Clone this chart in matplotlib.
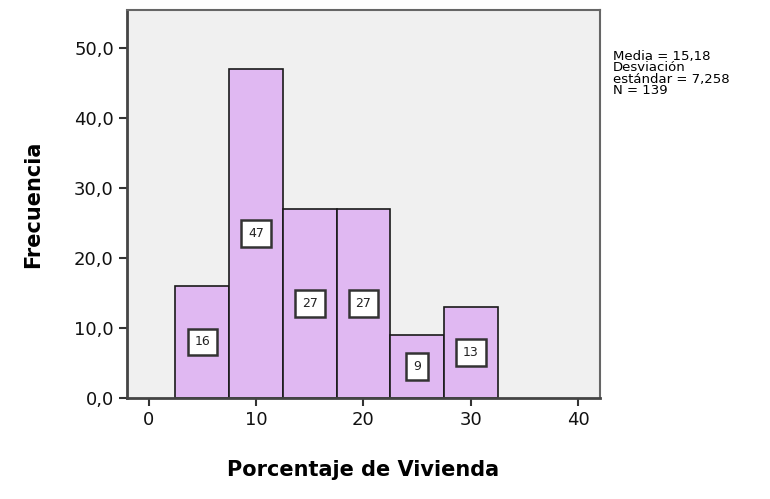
import matplotlib
matplotlib.use("Agg")
import matplotlib.pyplot as plt

# Histogram bins (centres) and counts
bin_centers = [5, 10, 15, 20, 25, 30]
counts = [16, 47, 27, 27, 9, 13]
bin_width = 5
x_ticks = [0, 10, 20, 30, 40]
y_ticks = [0, 10, 20, 30, 40, 50]
stats_text = "Media = 15,18\nDesviación\nestándar = 7,258\nN = 139"

fig = plt.figure(figsize=(7.7, 4.99), dpi=100)
ax = fig.add_axes([0.165, 0.2024, 0.614, 0.7776])
ax.set_facecolor("#f0f0f0")

bars = ax.bar(bin_centers, counts, width=bin_width, color="#e0b8f2",
              edgecolor="#1a1a1a", linewidth=1.2, zorder=2)

# Count labels in white boxes at mid-height
for xc, c in zip(bin_centers, counts):
    ax.text(xc, c / 2, str(c), ha="center", va="center", fontsize=9,
            color="#222222", zorder=3,
            bbox=dict(boxstyle="square,pad=0.55", facecolor="white",
                      edgecolor="#333333", linewidth=1.8))

ax.set_xlim(-2, 42)
ax.set_ylim(0, 55.4)
ax.set_xticks(x_ticks)
ax.set_xticklabels([str(t) for t in x_ticks])
ax.set_yticks(y_ticks)
ax.set_yticklabels([f"{t:.1f}".replace(".", ",") for t in y_ticks])
ax.tick_params(axis="both", direction="out", length=6, width=1.5,
               colors="#333333", labelsize=13, labelcolor="#111111")

for side in ["left", "bottom"]:
    ax.spines[side].set_color("#444444")
    ax.spines[side].set_linewidth(2)
for side in ["top", "right"]:
    ax.spines[side].set_color("#666666")
    ax.spines[side].set_linewidth(1.5)

ax.set_xlabel("Porcentaje de Vivienda", fontsize=15, fontweight="bold",
              labelpad=22)
ax.set_ylabel("Frecuencia", fontsize=15, fontweight="bold", labelpad=22)

fig.text(0.796, 0.9, stats_text, ha="left", va="top", fontsize=9.5,
         linespacing=0.85)

fig.savefig("out.png", dpi=100)
